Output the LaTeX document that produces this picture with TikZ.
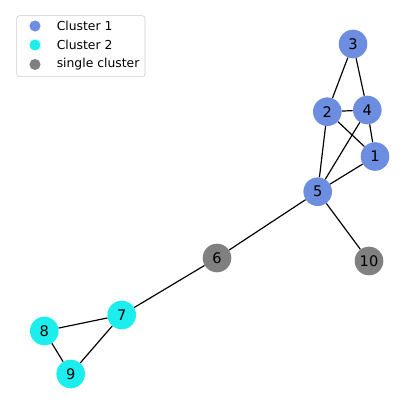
\documentclass[tikz,border=0pt]{standalone}
\usepackage{fontspec}
\setmainfont{DejaVu Sans}
\definecolor{clusterA}{HTML}{6C8DE0}
\definecolor{clusterB}{HTML}{1CEEEE}
\definecolor{single}{HTML}{808080}
\definecolor{frame}{HTML}{CCCCCC}

\begin{document}
\begin{tikzpicture}[x=0.72pt,y=-0.72pt,
                    vertex/.style={circle,minimum size=20.6pt,inner sep=0pt,
                                   font=\fontsize{10.5}{12}\selectfont},
                    link/.style={black,line width=0.85pt},
                    keydot/.style={circle,minimum size=8pt,inner sep=0pt},
                    entry/.style={anchor=west,inner sep=0pt,
                                  font=\fontsize{8.9}{10}\selectfont}]
  \useasboundingbox (0,0) rectangle (419,419);

  % nodes, in pixel positions of the drawing
  \node[vertex,fill=clusterA] (n1) at (375,156.5) {1};
  \node[vertex,fill=clusterA] (n2) at (327.3,111.7) {2};
  \node[vertex,fill=clusterA] (n3) at (353,44) {3};
  \node[vertex,fill=clusterA] (n4) at (367.3,110) {4};
  \node[vertex,fill=clusterA] (n5) at (317.7,191.7) {5};
  \node[vertex,fill=single] (n6) at (217,258) {6};
  \node[vertex,fill=clusterB] (n7) at (121.7,315) {7};
  \node[vertex,fill=clusterB] (n8) at (44.3,331) {8};
  \node[vertex,fill=clusterB] (n9) at (70.7,374) {9};
  \node[vertex,fill=single] (n10) at (369,261) {10};

  \foreach \a/\b in {3/2,3/4,2/4,2/1,4/1,2/5,4/5,1/5,5/6,5/10,6/7,7/8,7/9,8/9}
    \draw[link] (n\a) -- (n\b);

  % legend
  \draw[frame,fill=white,rounded corners=2pt] (16.7,15.7) rectangle (145,76.7);
  \node[keydot,fill=clusterA] (mA) at (35,26) {};
  \node[keydot,fill=clusterB] (mB) at (35,45) {};
  \node[keydot,fill=single] (mS) at (35,64.5) {};
  \node[entry] (tA) at (56.5,26) {Cluster 1};
  \node[entry] (tB) at (56.5,45) {Cluster 2};
  \node[entry] (tS) at (56.5,64.5) {single cluster};
\end{tikzpicture}
\end{document}
